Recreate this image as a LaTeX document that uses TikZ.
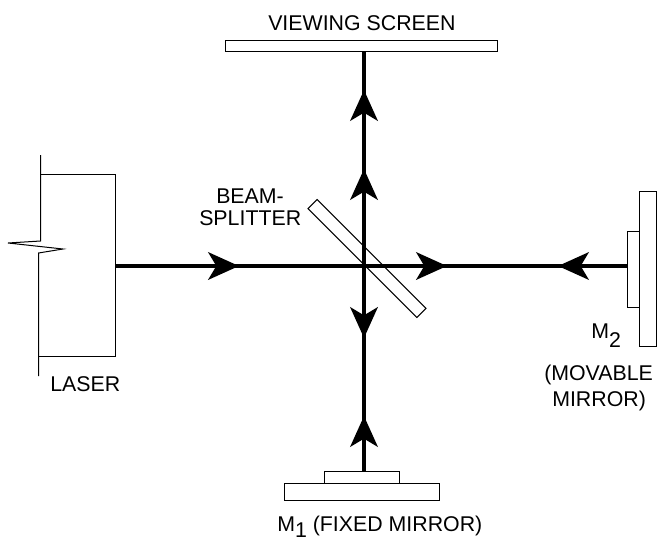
\documentclass[tikz,border=0pt]{standalone}
\usepackage{fontspec}
\setmainfont{Liberation Sans}
\usetikzlibrary{arrows.meta}
\tikzset{
  part/.style={draw, fill=white, line width=0.75pt, inner sep=0pt, outer sep=0pt},
  label/.style={anchor=base west, inner sep=0pt, font=\fontsize{16}{16}\selectfont},
  beam/.style={line width=3.4pt},
  tipped/.style={beam, -{Stealth[length=23pt, width=20.5pt, inset=6pt]}},
}
\newcommand{\lowsub}[2]{\raisebox{-#1pt}{#2}}

\begin{document}
\begin{tikzpicture}[x=0.75pt, y=-0.75pt]
   \useasboundingbox (0,0) rectangle (671,546);
   % laser housing with break
   \draw[line width=0.75pt] (40.5,155) -- (40.5,241) -- (8,243) -- (63,249) -- (38.5,253) -- (38.5,376);
   \draw[line width=0.75pt] (40.5,174.5) -- (115.5,174.5) -- (115.5,356.5) -- (38.5,356.5);
   \coordinate (laser) at (116,266);
   \coordinate (cross) at (364,266);
   % optics
   \node[part, rotate=-45, minimum width=115.5pt, minimum height=9.7pt] (splitter) at (367,258.5) {};
   \node[part, minimum width=204pt, minimum height=8.25pt] (screen) at (361.5,46) {};
   \node[part, minimum width=116.25pt, minimum height=12.75pt] (mfixed) at (362,492) {};
   \node[part, minimum width=56.25pt, minimum height=9pt] (mfixedtop) at (362,477.5) {};
   \node[part, minimum width=12.75pt, minimum height=116.25pt] (mmove) at (648,269) {};
   \node[part, minimum width=9pt, minimum height=57pt] (mmovetop) at (633.5,269.5) {};
   % beams
   \draw[beam] (laser) -- (mmovetop.west |- cross);
   \draw[beam] (cross |- screen.south) -- (cross |- mfixedtop.north);
   \coordinate (tipa) at (239,266);
   \coordinate (tipb) at (447,266);
   \coordinate (tipc) at (558,266);
   \coordinate (tipd) at (364,338);
   \coordinate (tipe) at (364,416);
   \coordinate (tipf) at (364,169);
   \coordinate (tipg) at (364,90);
   \draw[tipped] (laser) -- (tipa);
   \draw[tipped] (cross) -- (tipb);
   \draw[tipped] (mmovetop.west |- cross) -- (tipc);
   \draw[tipped] (cross) -- (tipd);
   \draw[tipped] (cross |- mfixedtop.north) -- (tipe);
   \draw[tipped] (cross) -- (tipf);
   \draw[tipped] (tipf) -- (tipg);
   % labels
   \node[label] (screenlabel) at (268,30) {VIEWING SCREEN};
   \node[label] (beamlabel) at (216,203) {BEAM-};
   \node[label] (splitlabel) at (199,225) {SPLITTER};
   \node[label] (laserlabel) at (50,391) {LASER};
   \node[label] (mmovelabel) at (591,338) {M\lowsub{7}{2}};
   \node[label] (movablelabel) at (544,380) {(MOVABLE};
   \node[label] (mirrorlabel) at (552,406) {MIRROR)};
   \node[label] (mfixedlabel) at (277,531) {M\lowsub{5}{1} (FIXED MIRROR)};
\end{tikzpicture}
\end{document}
